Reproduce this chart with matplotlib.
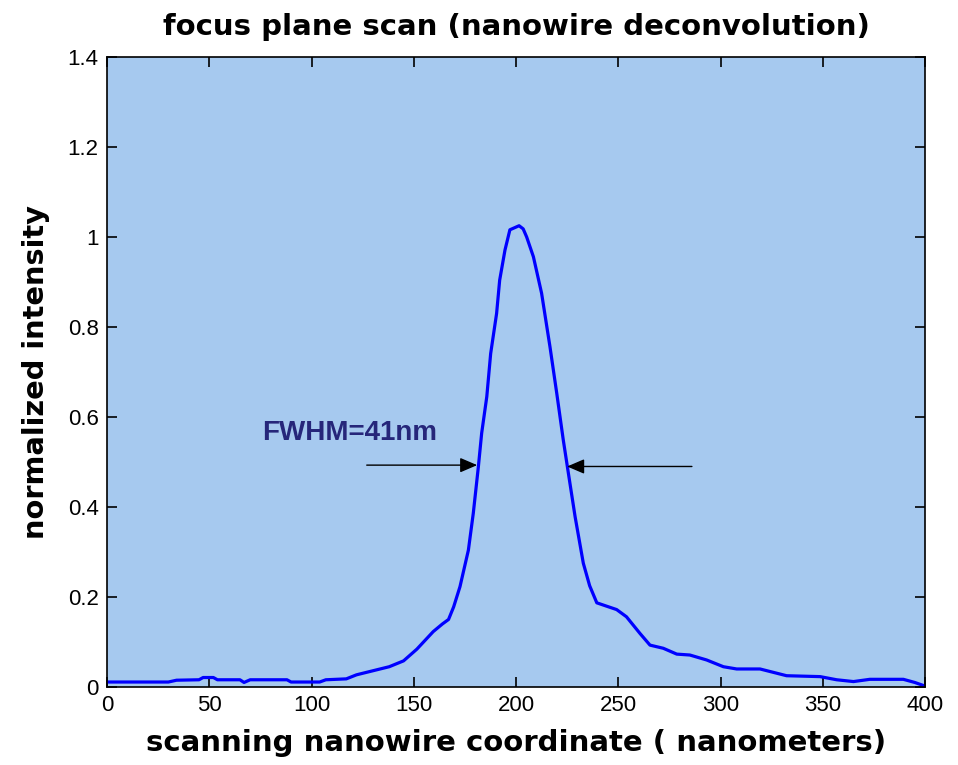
import matplotlib
matplotlib.use("Agg")
import matplotlib.pyplot as plt

##############################################################################################

# scan position (nm) and normalized intensity of the deconvolved profile
scan_nm = [0, 30, 34, 45, 47, 52, 54, 65, 67, 70, 88, 90, 104, 107, 117, 122, 130, 138, 145,
           151.5, 159.5, 164, 167, 169.5, 172.6, 176.7, 179.1, 181.6, 183.2, 185.7, 187.6,
           190.5, 192, 194.6, 197, 201.5, 203.5, 205.2, 208.5, 212.5, 216.6, 219.9, 223.1,
           225.6, 228.9, 232.9, 236, 239.5, 244, 249.2, 254, 260.6, 265.5, 272, 278.6, 285,
           293.2, 301.4, 307.9, 319.3, 332.3, 348.7, 356.8, 365, 373, 389.4, 395, 400]
intensity = [0.011, 0.011, 0.015, 0.016, 0.021, 0.021, 0.016, 0.016, 0.010, 0.016, 0.016,
             0.011, 0.011, 0.016, 0.018, 0.027, 0.036, 0.045, 0.058, 0.084, 0.123, 0.140,
             0.150, 0.178, 0.223, 0.304, 0.386, 0.490, 0.564, 0.645, 0.741, 0.830, 0.904,
             0.971, 1.016, 1.025, 1.018, 1.000, 0.956, 0.875, 0.756, 0.653, 0.549, 0.475,
             0.378, 0.275, 0.225, 0.187, 0.180, 0.172, 0.156, 0.119, 0.093, 0.086, 0.073,
             0.071, 0.060, 0.045, 0.040, 0.040, 0.025, 0.023, 0.016, 0.012, 0.017, 0.017,
             0.010, 0.002]

# half-maximum arrows: (tail x, head x, y)
fwhm_left = (127, 181, 0.493)
fwhm_right = (286, 225, 0.490)
fwhm_label = "FWHM=41nm"

x_ticks = list(range(0, 401, 50))
y_ticks = [0, 0.2, 0.4, 0.6, 0.8, 1, 1.2, 1.4]
y_tick_labels = ["0", "0.2", "0.4", "0.6", "0.8", "1", "1.2", "1.4"]

##############################################################################################

plt.rcParams['font.family'] = ['Liberation Sans', 'DejaVu Sans']
heading_font = dict(family=['DejaVu Sans'], fontweight="bold")

fig = plt.figure(figsize=(9.58, 7.65), dpi=100)
ax = fig.add_axes([0.1117, 0.1020, 0.8539, 0.8235])
ax.set_facecolor("#a6c9ef")

ax.plot(scan_nm, intensity, color="#0000ff", linewidth=2.3)

for tail, head, yy in (fwhm_left, fwhm_right):
    ax.annotate("", xy=(head, yy), xytext=(tail, yy),
                arrowprops=dict(arrowstyle="-|>,head_length=0.7,head_width=0.3",
                                color="black", lw=1.0,
                                mutation_scale=15, shrinkA=0, shrinkB=0))
ax.text(76, 0.564, fwhm_label, color="#26267a", fontsize=20, fontweight="bold",
        va="center", ha="left")

ax.set_xlim(0, 400)
ax.set_ylim(0, 1.4)
ax.set_xticks(x_ticks)
ax.set_yticks(y_ticks)
ax.set_yticklabels(y_tick_labels)
ax.tick_params(direction="in", top=True, right=True, length=7, width=1.2,
               labelsize=16, pad=6)
for spine in ax.spines.values():
    spine.set_linewidth(1.2)

ax.set_title("focus plane scan (nanowire deconvolution)", fontsize=21, pad=16,
             **heading_font)
ax.set_xlabel("scanning nanowire coordinate ( nanometers)", fontsize=21, labelpad=9,
              **heading_font)
ax.set_ylabel("normalized intensity", fontsize=20.8, labelpad=13, **heading_font)

fig.savefig("out.png", dpi=100)
